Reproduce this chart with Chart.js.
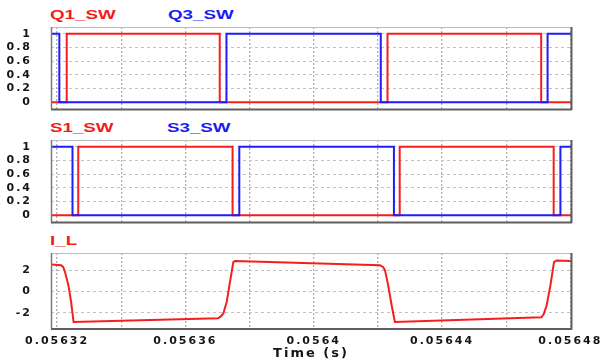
<!DOCTYPE html>
<html><head><meta charset="utf-8">
<script src="https://cdn.jsdelivr.net/npm/chart.js@4.4.0/dist/chart.umd.min.js"></script>
<style>
html,body{margin:0;padding:0;background:#fff;}
#wrap{position:relative;width:604px;height:360px;overflow:hidden;background:#fff;}
canvas{position:absolute;left:0;}
.t{position:absolute;font:bold 12.5px "Liberation Sans",Arial,sans-serif;transform:scaleX(1.5);transform-origin:0 50%;white-space:nowrap;line-height:14px;height:14px;}
.r{color:#f21c1c}.b{color:#1c1cf2}
</style></head><body>
<div id="wrap">
<div class="t r" style="left:50px;top:8px">Q1_SW</div>
<div class="t b" style="left:168px;top:8px">Q3_SW</div>
<div class="t r" style="left:50px;top:121px">S1_SW</div>
<div class="t b" style="left:167px;top:121px">S3_SW</div>
<div class="t r" style="left:50px;top:234px">I_L</div>
<canvas id="c1" width="604" height="92" style="top:22px"></canvas>
<canvas id="c2" width="604" height="92" style="top:135px"></canvas>
<canvas id="c3" width="604" height="112" style="top:248px"></canvas>
</div>
<script>
// ---- axis ticks ----
const xTickValues = [0.05632,0.05634,0.05636,0.05638,0.0564,0.05642,0.05644,0.05646,0.05648];
const xTickLabels = ['0.05632','','0.05636','','0.0564','','0.05644','','0.05648'];
const xMin = 0.0563181, xMax = 0.0564802;
const swTickValues = [0,0.2,0.4,0.6,0.8,1];
const swTickLabels = ['0','0.2','0.4','0.6','0.8','1'];
const iTickValues = [-2,0,2];
const iTickLabels = ['-2','0','2'];

// ---- switching signals (transition times, level after transition) ----
const q1Times = [0.0563181,0.0563230,0.0563707,0.0564230,0.0564709,0.0564802];
const q1Levels = [0,1,0,1,0,0];
const q3Times = [0.0563181,0.0563207,0.0563728,0.0564209,0.0564729,0.0564802];
const q3Levels = [1,0,1,0,1,1];
const s1Times = [0.0563181,0.0563266,0.0563747,0.0564268,0.0564748,0.0564802];
const s1Levels = [0,1,0,1,0,0];
const s3Times = [0.0563181,0.0563248,0.0563768,0.0564250,0.0564769,0.0564802];
const s3Levels = [1,0,1,0,1,1];

// ---- inductor current ----
const iLTimes = [0.0563181,0.05632125,0.05632187,0.05632249,0.05632352,0.05632436,0.05632514,
  0.05637017,0.0563711,0.05637182,0.05637288,0.0563739,0.05637493,0.05637546,
  0.05642065,0.0564216,0.0564222,0.0564232,0.0564243,0.0564253,
  0.056471,0.0564717,0.0564726,0.0564738,0.0564749,0.0564757,0.0564802];
const iLValues = [2.52,2.45,2.3,1.8,0.6,-0.95,-2.85,
  -2.5,-2.3,-2.05,-0.95,0.9,2.75,2.85,
  2.45,2.3,2.0,0.6,-1.3,-2.85,
  -2.4,-2.1,-1.3,0.6,2.75,2.9,2.85];

const RED = '#f51e1e', BLUE = '#1e1ef5';
const pts = (xs, ys) => xs.map((x, i) => ({x: x, y: ys[i]}));

const spacing = {id:'spacing',
  beforeDraw(c){ c.ctx.letterSpacing = '2px'; },
  afterDraw(c){ c.ctx.letterSpacing = '0px'; }};
const frame = {id:'frame', afterDraw(c){
  const {left, top, right, bottom} = c.chartArea; const ctx = c.ctx;
  ctx.save();
  const ln = (a,b,d,e) => { ctx.beginPath(); ctx.moveTo(a,b); ctx.lineTo(d,e); ctx.stroke(); };
  ctx.lineWidth = 1; ctx.strokeStyle = '#bdbdbd'; ln(left, top+0.5, right, top+0.5);
  ctx.lineWidth = 1.5; ctx.strokeStyle = '#7a7a7a'; ln(left+0.5, top, left+0.5, bottom);
  ctx.lineWidth = 2; ctx.strokeStyle = '#5e5e5e';
  ln(right+0.5, top, right+0.5, bottom+1); ln(left, bottom+0.5, right+1, bottom+0.5);
  ctx.restore();
}};

const tickFont = {family:'DejaVu Sans', weight:'bold', size:11};

function makeChart(id, datasets, yMin, yMax, yVals, yLabels, showX) {
  return new Chart(document.getElementById(id), {
    type: 'line',
    data: {datasets: datasets},
    options: {
      responsive: false, animation: false, events: [],
      layout: {padding: {left: 0, right: 33, top: 5, bottom: showX ? 0 : 5}},
      plugins: {legend: {display: false}, tooltip: {enabled: false}},
      elements: {point: {radius: 0}, line: {borderWidth: 2, tension: 0}},
      scales: {
        x: {type: 'linear', min: xMin, max: xMax,
          afterBuildTicks: s => { s.ticks = xTickValues.map(v => ({value: v})); },
          afterFit: s => { s.height = showX ? 31.5 : 0; s.paddingLeft = 0; s.paddingRight = 0; },
          grid: {color: '#b0b0b0', lineWidth: 1.3, drawTicks: false},
          border: {display: false, dash: [2, 2]},
          ticks: {display: showX, autoSkip: false, maxRotation: 0, minRotation: 0, padding: 6,
            color: '#151515', font: tickFont, callback: (v, i) => xTickLabels[i]},
          title: {display: showX, text: 'Time (s)', color: '#151515',
            font: {family: 'DejaVu Sans', weight: 'bold', size: 13, lineHeight: 1}, padding: 0}
        },
        y: {min: yMin, max: yMax,
          afterBuildTicks: s => { s.ticks = yVals.map(v => ({value: v})); },
          afterFit: s => { s.width = 51; s.paddingTop = 0; s.paddingBottom = 0; },
          grid: {color: '#c2c2c2', lineWidth: 1, drawTicks: false},
          border: {display: false, dash: [3, 3]},
          ticks: {autoSkip: false, padding: 19, color: '#151515', font: tickFont,
            callback: (v, i) => yLabels[i]}
        }
      }
    },
    plugins: [spacing, frame]
  });
}

makeChart('c1', [
  {label: 'Q3_SW', data: pts(q3Times, q3Levels), borderColor: BLUE, stepped: 'before'},
  {label: 'Q1_SW', data: pts(q1Times, q1Levels), borderColor: RED, stepped: 'before'}
], -0.1, 1.1, swTickValues, swTickLabels, false);

makeChart('c2', [
  {label: 'S3_SW', data: pts(s3Times, s3Levels), borderColor: BLUE, stepped: 'before'},
  {label: 'S1_SW', data: pts(s1Times, s1Levels), borderColor: RED, stepped: 'before'}
], -0.1, 1.1, swTickValues, swTickLabels, false);

makeChart('c3', [
  {label: 'I_L', data: pts(iLTimes, iLValues), borderColor: RED}
], -3.45, 3.6, iTickValues, iTickLabels, true);
</script>
</body></html>
